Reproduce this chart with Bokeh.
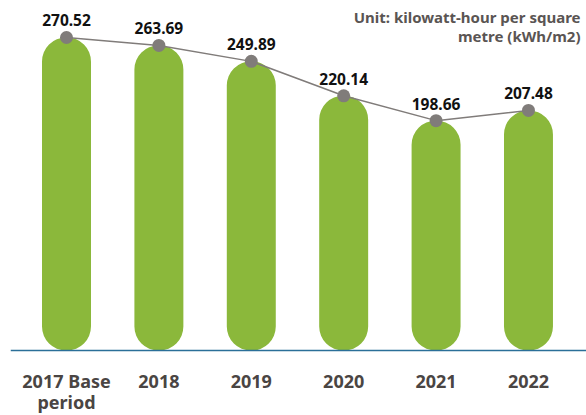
from bokeh.plotting import figure
from bokeh.models import ColumnDataSource, Label, Range1d, Span
from bokeh.embed import file_html
from bokeh.resources import INLINE
from bokeh.core.properties import value

categories = ["2017 Base\nperiod", "2018", "2019", "2020", "2021", "2022"]
values = [270.52, 263.69, 249.89, 220.14, 198.66, 207.48]
value_labels = ["270.52", "263.69", "249.89", "220.14", "198.66", "207.48"]
unit_lines = ["Unit: kilowatt-hour per square", "metre (kWh/m2)"]

xs = list(range(len(categories)))
line1 = [c.split("\n")[0] for c in categories]
line2 = [c.split("\n")[1] if "\n" in c else "" for c in categories]
src = ColumnDataSource(dict(x=xs, top=values, lab=value_labels, zero=[0] * len(xs),
                            l1=line1, l2=line2))

p = figure(width=586, height=415, output_backend="svg", toolbar_location=None,
           x_range=Range1d(-0.606, 5.628), y_range=Range1d(-56.2, 302.5),
           min_border_left=10, min_border_right=0, min_border_top=0, min_border_bottom=0)
p.outline_line_color = None
p.grid.visible = False
p.axis.visible = False
p.background_fill_color = "white"

p.vbar(x="x", top="top", bottom=0, width=0.53, source=src, fill_color="#8BB83B",
       line_color=None, border_radius=24)
p.add_layout(Span(location=0, dimension="width", line_color="#2b6f98", line_width=1.5))
p.line(x="x", y="top", source=src, line_color="#807c7a", line_width=1.5)
p.scatter(x="x", y="top", source=src, size=13, fill_color="#807c7a", line_color=None)
p.text(x="x", y="top", text="lab", source=src, text_align="center", text_baseline="alphabetic",
       y_offset=-17, text_font=value("Noto Sans"), text_font_size="15.5px",
       text_font_style="bold", text_color="#111111")
p.text(x="x", y="zero", text="l1", source=src, text_align="center", text_baseline="alphabetic",
       y_offset=31, text_font=value("Noto Sans"), text_font_size="18px",
       text_font_style="bold", text_color="#4a4543")
p.text(x="x", y="zero", text="l2", source=src, text_align="center", text_baseline="alphabetic",
       y_offset=52, text_font=value("Noto Sans"), text_font_size="18px",
       text_font_style="bold", text_color="#4a4543")

for i, t in enumerate(unit_lines):
    p.add_layout(Label(x=570, y=399 - 19 * i, x_units="screen", y_units="screen",
                       text=t, text_align="right", text_baseline="middle",
                       text_font="Noto Sans", text_font_style="bold",
                       text_font_size="15px", text_color="#5a5553"))

open("out.html", "w").write(file_html(p, INLINE))
